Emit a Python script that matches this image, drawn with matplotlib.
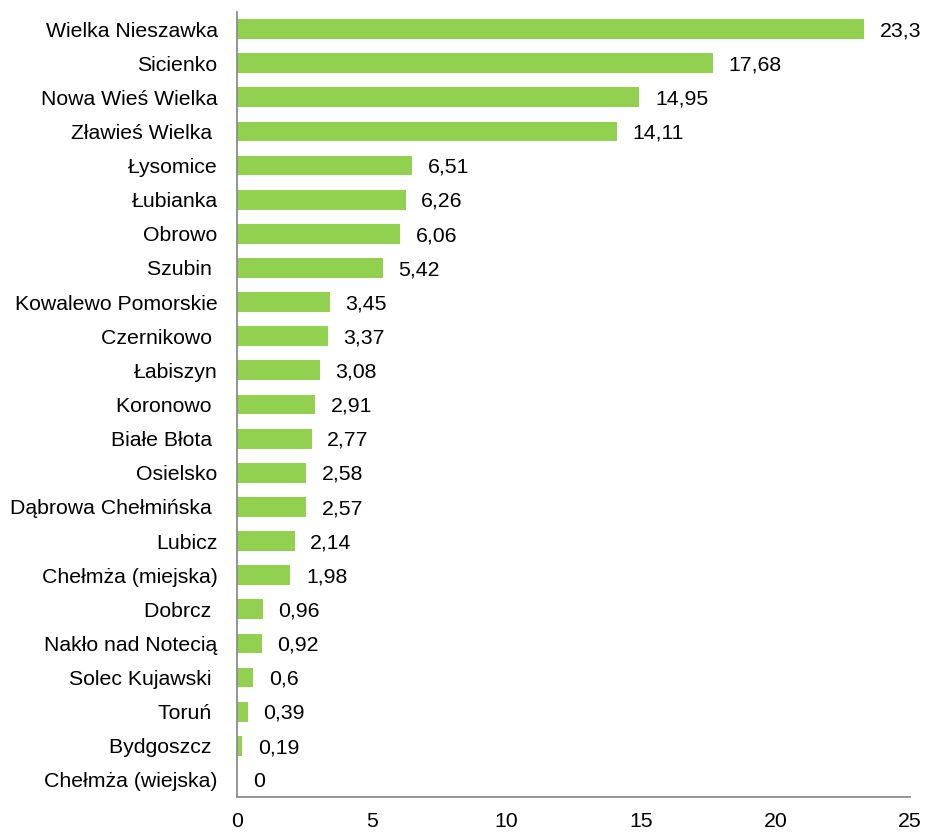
import matplotlib
matplotlib.use("Agg")
import matplotlib.pyplot as plt
import numpy as np

plt.rcParams['font.family'] = ['Liberation Sans', 'DejaVu Sans']

names = ["Wielka Nieszawka", "Sicienko", "Nowa Wieś Wielka", "Zławieś Wielka ",
         "Łysomice", "Łubianka", "Obrowo", "Szubin ", "Kowalewo Pomorskie",
         "Czernikowo ", "Łabiszyn", "Koronowo ", "Białe Błota ", "Osielsko",
         "Dąbrowa Chełmińska ", "Lubicz", "Chełmża (miejska)", "Dobrcz ",
         "Nakło nad Notecią", "Solec Kujawski ", "Toruń ", "Bydgoszcz ",
         "Chełmża (wiejska)"]
values = [23.3, 17.68, 14.95, 14.11, 6.51, 6.26, 6.06, 5.42, 3.45, 3.37, 3.08,
          2.91, 2.77, 2.58, 2.57, 2.14, 1.98, 0.96, 0.92, 0.6, 0.39, 0.19, 0]
labels = ["23,3", "17,68", "14,95", "14,11", "6,51", "6,26", "6,06", "5,42",
          "3,45", "3,37", "3,08", "2,91", "2,77", "2,58", "2,57", "2,14",
          "1,98", "0,96", "0,92", "0,6", "0,39", "0,19", "0"]

fig = plt.figure(figsize=(9.27, 8.33), dpi=100)
ax = fig.add_axes([0.2557, 0.0432, 0.726, 0.9424])

y = np.arange(len(names))
ax.barh(y, values, height=0.58, color="#92D050")
for yi, v, lab in zip(y, values, labels):
    ax.text(v + 0.58, yi + 0.05, lab, va="center", ha="left", fontsize=15.3)

ax.set_ylim(len(names) - 0.5, -0.5)
ax.set_xlim(0, 25)
ax.set_yticks(y)
ax.set_yticklabels(names, fontsize=15.3)
ax.set_xticks([0, 5, 10, 15, 20, 25])
ax.tick_params(axis="both", length=0, labelsize=15.3)
ax.tick_params(axis="x", pad=11)
ax.tick_params(axis="y", pad=14)
for s in ["top", "right"]:
    ax.spines[s].set_visible(False)
for s in ["left", "bottom"]:
    ax.spines[s].set_color("#8c8c8c")
    ax.spines[s].set_linewidth(1.3)

fig.savefig("out.png", dpi=100)
